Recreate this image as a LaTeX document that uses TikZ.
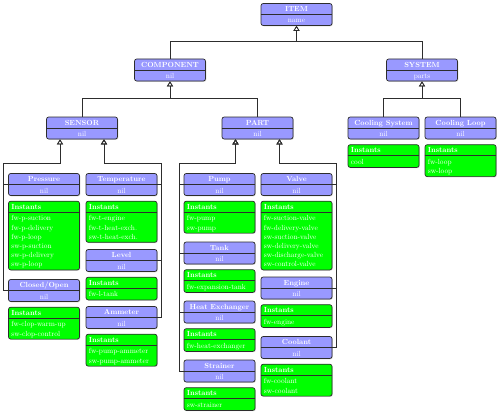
\documentclass[tikz,border=0pt]{standalone}
\usetikzlibrary{arrows.meta,shadows,calc}
\definecolor{clsblue}{RGB}{153,153,255}
\definecolor{instgreen}{RGB}{0,255,0}
\definecolor{edgegray}{RGB}{45,45,45}
\tikzset{
  boxbase/.style={draw=edgegray, line width=0.7pt, rounded corners=2.2pt, inner sep=0pt,
    minimum width=71pt, drop shadow={shadow xshift=0.8pt, shadow yshift=-0.8pt, opacity=0.35}},
  cls/.style={boxbase, fill=clsblue, minimum height=22pt},
  inst/.style={boxbase, fill=instgreen, anchor=north},
  sepline/.style={draw=edgegray, line width=0.7pt},
  txtbase/.style={text=white, inner sep=0pt},
  clstitle/.style={txtbase, font=\fontsize{10}{12}\selectfont\bfseries, anchor=base},
  clssub/.style={txtbase, font=\fontsize{10}{12}\selectfont, anchor=base},
  insthead/.style={txtbase, font=\fontsize{10}{12}\selectfont\bfseries, anchor=base west},
  instline/.style={txtbase, font=\fontsize{10}{12}\selectfont, anchor=base west},
  inh/.style={draw=edgegray, line width=0.7pt, -{Triangle[open, width=6pt, length=5pt]}},
}
\newcommand\smtxt[1]{\scalebox{0.74}{#1}}
\newcommand\clsbox[5]{%
  \node[cls] (#1) at (#2,#3) {};
  \draw[sepline] (#1.west) -- (#1.east);
  \node[clstitle] (#1-t) at ($(#1.center)+(0,-3)$) {\smtxt{#4}};
  \node[clssub] (#1-s) at ($(#1.center)+(0,8.5)$) {\smtxt{#5}};
}
\newcommand\instbox[3]{%
  \node[inst, minimum height={13.5+9.2*#2}] (#1-i) at ($(#1.south)+(0,5)$) {};
  \draw[sepline] ($(#1-i.north west)+(0,11)$) -- ($(#1-i.north east)+(0,11)$);
  \node[insthead] (#1-ih) at ($(#1-i.north west)+(3,8.6)$) {\smtxt{Instants}};
  \foreach \t [count=\i] in {#3} \node[instline] (#1-l\i) at ($(#1-i.north west)+(3,10.8+9.2*\i)$) {\smtxt{\t}};
}
\begin{document}
\begin{tikzpicture}[x=1pt,y=-1pt]
\useasboundingbox (0,0) rectangle (500,412);
% classes
\clsbox{item}{296.5}{14.5}{ITEM}{name}
\clsbox{component}{170}{70}{COMPONENT}{nil}
\clsbox{system}{422}{70}{SYSTEM}{parts}
\clsbox{sensor}{82}{128}{SENSOR}{nil}
\clsbox{part}{257.5}{128}{PART}{nil}
\clsbox{csys}{383.5}{128}{Cooling System}{nil}
\clsbox{cloop}{460.5}{128}{Cooling Loop}{nil}
\clsbox{pressure}{44}{184.5}{Pressure}{nil}
\clsbox{temperature}{121.5}{184.5}{Temperature}{nil}
\clsbox{level}{121.5}{260.5}{Level}{nil}
\clsbox{clop}{44}{290.5}{Closed/Open}{nil}
\clsbox{ammeter}{121.5}{317.5}{Ammeter}{nil}
\clsbox{pump}{219.5}{184.5}{Pump}{nil}
\clsbox{valve}{296.5}{184.5}{Valve}{nil}
\clsbox{tank}{219.5}{253}{Tank}{nil}
\clsbox{hex}{219.5}{312}{Heat Exchanger}{nil}
\clsbox{strainer}{219.5}{371}{Strainer}{nil}
\clsbox{engine}{296.5}{288}{Engine}{nil}
\clsbox{coolant}{296.5}{347.5}{Coolant}{nil}
% instants
\instbox{csys}{1}{cool}
\instbox{cloop}{2}{fw-loop,sw-loop}
\instbox{pressure}{6}{fw-p-suction,fw-p-delivery,fw-p-loop,sw-p-suction,sw-p-delivery,sw-p-loop}
\instbox{temperature}{3}{fw-t-engine,fw-t-heat-exch.,sw-t-heat-exch.}
\instbox{level}{1}{fw-l-tank}
\instbox{clop}{2}{fw-clop-warm-up,sw-clop-control}
\instbox{ammeter}{2}{fw-pump-ammeter,sw-pump-ammeter}
\instbox{pump}{2}{fw-pump,sw-pump}
\instbox{valve}{6}{fw-suction-valve,fw-delivery-valve,sw-suction-valve,sw-delivery-valve,sw-discharge-valve,sw-control-valve}
\instbox{tank}{1}{fw-expansion-tank}
\instbox{hex}{1}{fw-heat-exchanger}
\instbox{strainer}{1}{sw-strainer}
\instbox{engine}{1}{fw-engine}
\instbox{coolant}{2}{fw-coolant,sw-coolant}
% connectors
\coordinate (itemBus) at (296.5,41.5);
\draw[inh] (component.north) |- (itemBus) -| (item.south);
\draw[inh] (system.north) |- (itemBus) -| (item.south);
\coordinate (compBus) at (170,98.5);
\draw[inh] (sensor.north) |- (compBus) -| (component.south);
\draw[inh] (part.north) |- (compBus) -| (component.south);
\coordinate (sysBus) at (422,98.5);
\draw[inh] (csys.north) |- (sysBus) -| (system.south);
\draw[inh] (cloop.north) |- (sysBus) -| (system.south);
\coordinate (sensorL) at ($(sensor.south)+(-22,0)$);
\coordinate (sensorR) at ($(sensor.south)+(22,0)$);
\coordinate (sensorLbus) at (3.5,163);
\coordinate (sensorRbus) at (161.5,163);
\draw[inh] (pressure.west) -| (sensorLbus) -| (sensorL);
\draw[inh] (clop.west) -| (sensorLbus) -| (sensorL);
\draw[inh] (temperature.east) -| (sensorRbus) -| (sensorR);
\draw[inh] (level.east) -| (sensorRbus) -| (sensorR);
\draw[inh] (ammeter.east) -| (sensorRbus) -| (sensorR);
\coordinate (partL) at ($(part.south)+(-22,0)$);
\coordinate (partR) at ($(part.south)+(22,0)$);
\coordinate (partLbus) at (179,163);
\coordinate (partRbus) at (336,163);
\draw[inh] (pump.west) -| (partLbus) -| (partL);
\draw[inh] (tank.west) -| (partLbus) -| (partL);
\draw[inh] (hex.west) -| (partLbus) -| (partL);
\draw[inh] (strainer.west) -| (partLbus) -| (partL);
\draw[inh] (valve.east) -| (partRbus) -| (partR);
\draw[inh] (engine.east) -| (partRbus) -| (partR);
\draw[inh] (coolant.east) -| (partRbus) -| (partR);
\end{tikzpicture}
\end{document}
